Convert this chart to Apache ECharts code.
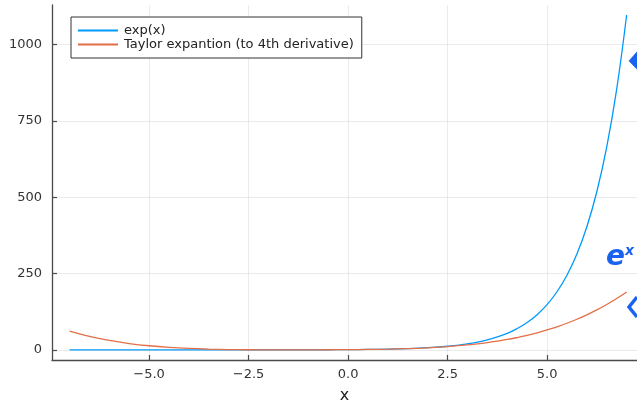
<!DOCTYPE html>
<html>
<head>
<meta charset="utf-8">
<script src="https://cdn.jsdelivr.net/npm/echarts@6/dist/echarts.min.js"></script>
<style>html,body{margin:0;padding:0;background:#fff}#c{width:637px;height:409px}</style>
</head>
<body>
<div id="c"></div>
<script>
// x sample positions
var xs = [-7,-6.5,-6,-5.5,-5,-4.5,-4,-3.5,-3,-2.5,-2,-1.5,-1,-0.5,0,0.5,1,1.5,2,2.5,3,3.5,4,4.25,4.5,4.75,5,5.25,5.5,5.75,6,6.25,6.5,6.75,7];
// exp(x) values
var expVals = [0.0009,0.0015,0.0025,0.0041,0.0067,0.0111,0.0183,0.0302,0.0498,0.0821,0.1353,0.2231,0.3679,0.6065,1,1.6487,2.7183,4.4817,7.3891,12.18,20.09,33.12,54.60,70.11,90.02,115.58,148.41,190.57,244.69,314.19,403.43,518.01,665.14,854.06,1096.63];
// Taylor expansion values
var taylorVals = [61.38,44.23,31,21.02,13.71,8.52,5,2.73,1.375,0.648,0.333,0.273,0.375,0.607,1,1.648,2.708,4.398,7,10.86,16.38,24.02,34.33,40.67,47.90,56.10,65.38,75.80,87.48,100.51,115,131.05,148.77,168.29,189.71];
var seriesNames = ['exp(x)', 'Taylor expantion (to 4th derivative)'];
var xTicks = [-5, -2.5, 0, 2.5, 5];
var xTickLabels = ['\u22125.0', '\u22122.5', '0.0', '2.5', '5.0'];
var yTicks = [0, 250, 500, 750, 1000];
var yTickLabels = ['0', '250', '500', '750', '1000'];

function pairs(v) { return xs.map(function (x, i) { return [x, v[i]]; }); }
var font = 'DejaVu Sans';
var axisColor = '#4a4a4a';
var chart = echarts.init(document.getElementById('c'), null, {renderer: 'canvas'});
chart.setOption({
  animation: false,
  textStyle: {fontFamily: font},
  grid: {left: 52, right: 0, top: 5, bottom: 46, containLabel: false},
  xAxis: {
    type: 'value', min: -7.44, max: 7.26,
    name: 'x', nameLocation: 'middle', nameGap: 28,
    nameTextStyle: {fontSize: 16, color: '#222', fontFamily: font},
    axisLine: {show: true, onZero: false, lineStyle: {color: axisColor, width: 1.3}},
    axisTick: {show: true, inside: true, length: 5, customValues: xTicks, lineStyle: {color: axisColor, width: 1.2}},
    axisLabel: {customValues: xTicks, margin: 8, fontSize: 13, color: '#333', fontFamily: font,
      formatter: function (v) { var i = xTicks.indexOf(v); return i >= 0 ? xTickLabels[i] : ''; }},
    splitLine: {show: true, lineStyle: {color: 'rgba(0,0,0,0.08)', width: 1}}
  },
  yAxis: {
    type: 'value', min: -32.9, max: 1129.5,
    axisLine: {show: true, onZero: false, lineStyle: {color: axisColor, width: 1.3}},
    axisTick: {show: true, inside: true, length: 5, customValues: yTicks, lineStyle: {color: axisColor, width: 1.2}},
    axisLabel: {customValues: yTicks, margin: 10, fontSize: 13, color: '#333', fontFamily: font,
      formatter: function (v) { var i = yTicks.indexOf(v); return i >= 0 ? yTickLabels[i] : ''; }},
    splitLine: {show: true, lineStyle: {color: 'rgba(0,0,0,0.08)', width: 1}}
  },
  legend: {
    orient: 'vertical', left: 71, top: 17,
    padding: [7, 8, 7, 7], itemGap: 1, itemWidth: 40, itemHeight: 2, icon: 'rect',
    borderColor: '#333', borderWidth: 1, borderRadius: 0, backgroundColor: '#fff',
    textStyle: {fontSize: 13, color: '#222', fontFamily: font, lineHeight: 13, padding: [0, 0, 0, 1]},
    data: seriesNames
  },
  series: [
    {name: seriesNames[0], type: 'line', data: pairs(expVals), showSymbol: false, symbol: 'none',
      smooth: 0.4, lineStyle: {color: '#009AFA', width: 1.3}, itemStyle: {color: '#009AFA'}, z: 3},
    {name: seriesNames[1], type: 'line', data: pairs(taylorVals), showSymbol: false, symbol: 'none',
      smooth: 0.4, lineStyle: {color: '#E36F47', width: 1.3}, itemStyle: {color: '#E36F47'}, z: 4}
  ],
  graphic: [
    {type: 'text', left: 606, top: 244, z: 100, style: {
      text: '{e|e}{s|x}', fill: '#1a63f0',
      rich: {e: {fontSize: 28, fontStyle: 'italic', fontWeight: 'bold', fontFamily: font, fill: '#1a63f0'},
             s: {fontSize: 14, fontStyle: 'italic', fontWeight: 'bold', fontFamily: font, fill: '#1a63f0', verticalAlign: 'top', padding: [0, 0, 12, 0]}}}},
    {type: 'polyline', z: 100, shape: {points: [[637, 297], [629, 307], [637, 317]]}, style: {stroke: '#1a63f0', lineWidth: 3.5, fill: null}},
    {type: 'polygon', z: 100, shape: {points: [[637, 53], [630, 61], [637, 68]]}, style: {fill: '#1a63f0', stroke: '#1a63f0', lineWidth: 2}}
  ]
});
</script>
</body>
</html>
